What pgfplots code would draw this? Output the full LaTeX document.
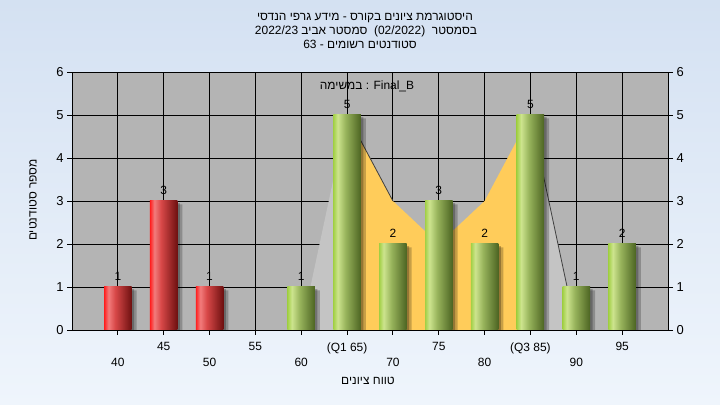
\documentclass[border=0pt]{standalone}
\usepackage{pgfplots}
\pgfplotsset{compat=1.18}
\usepackage{fontspec}
\setmainfont{Liberation Sans}
\newfontfamily\hebfont[Script=Hebrew]{Liberation Sans}
\TeXXeTstate=1
\newcommand\hb[1]{{\hebfont\beginR #1\endR}}

\definecolor{bgTop}{HTML}{D4E1F2}
\definecolor{bgBot}{HTML}{EFF5FC}
\definecolor{plotBg}{HTML}{B4B4B4}
\definecolor{areaGray}{HTML}{C4C4C4}
\definecolor{areaYellow}{HTML}{FFCC5A}
\definecolor{rA}{HTML}{FF1E1E}
\definecolor{rB}{HTML}{F27C7C}
\definecolor{rC}{HTML}{D84848}
\definecolor{rD}{HTML}{6E1010}
\definecolor{gA}{HTML}{A2D046}
\definecolor{gB}{HTML}{CDE48E}
\definecolor{gC}{HTML}{98B45C}
\definecolor{gD}{HTML}{4C6422}

\pgfdeclarehorizontalshading{redbar}{100bp}{color(0bp)=(rA); color(25bp)=(rA); color(33bp)=(rB); color(45bp)=(rC); color(75bp)=(rD); color(100bp)=(rD)}
\pgfdeclarehorizontalshading{greenbar}{100bp}{color(0bp)=(gA); color(25bp)=(gA); color(33bp)=(gB); color(47bp)=(gC); color(75bp)=(gD); color(100bp)=(gD)}

\pgfplotsset{
  mybar/.style={ybar, bar width=3, bar shift=0pt, draw=none, shade, shading=#1, nodes near coords},
}

\begin{document}
\begin{tikzpicture}
\useasboundingbox (0,0) rectangle (720bp,405bp);
\shade[top color=bgTop, bottom color=bgBot] (0,0) rectangle (720bp,405bp);

\begin{axis}[
  at={(72bp,75bp)}, anchor=south west,
  scale only axis, width=596bp, height=258bp,
  xmin=35, xmax=100, ymin=0, ymax=6,
  axis background/.style={fill=plotBg},
  axis line style={black, line width=0.9bp},
  tick style={black, line width=0.9bp},
  tick align=outside, major tick length=5bp,
  xtick pos=left, ytick pos=left,
  ytick={0,1,2,3,4,5,6},
  xtick={45,55,65,75,85,95},
  xticklabels={45,55,(Q1 65),75,(Q3 85),95},
  extra x ticks={40,50,60,70,80,90},
  extra x tick labels={40,50,60,70,80,90},
  extra x tick style={grid=major, major grid style={black, line width=0.9bp}, xticklabel style={yshift=-16bp}},
  grid=major, major grid style={black, line width=0.9bp},
  xticklabel style={font=\fontsize{12}{13}\selectfont, yshift=-4bp},
  yticklabel style={font=\fontsize{13}{14}\selectfont},
  /pgf/number format/assume math mode=true,
  nodes near coords style={font=\fontsize{12}{13}\selectfont, text=black, yshift=3bp},
]
% areas
\addplot[fill=areaGray, draw=none] coordinates {(60,0)(65,5)} \closedcycle;
\addplot[fill=areaGray, draw=none] coordinates {(85,5)(90,0)} \closedcycle;
\addplot[fill=areaYellow, draw=none] coordinates {(65,5)(70,3)(75,2)(80,3)(85,5)} \closedcycle;
\addplot[draw=black!75, line width=0.8bp] coordinates {(65,5)(70,3)};
\addplot[draw=black!75, line width=0.8bp] coordinates {(85,5)(90,0)};
% shadows
\addplot[ybar, bar width=3, bar shift=2.5bp, fill=black, fill opacity=0.25, draw=none]
  coordinates {(40,0.95)(45,2.95)(50,0.95)(60,0.95)(65,4.95)(70,1.95)(75,2.95)(80,1.95)(85,4.95)(90,0.95)(95,1.95)};
\addplot[ybar, bar width=3, bar shift=5bp, fill=black, fill opacity=0.22, draw=none]
  coordinates {(40,0.92)(45,2.92)(50,0.92)(60,0.92)(65,4.92)(70,1.92)(75,2.92)(80,1.92)(85,4.92)(90,0.92)(95,1.92)};
% bars (one plot per bar so each gets its own cylinder shading)
\addplot[mybar=redbar] coordinates {(40,1)};
\addplot[mybar=redbar] coordinates {(45,3)};
\addplot[mybar=redbar] coordinates {(50,1)};
\addplot[mybar=greenbar] coordinates {(60,1)};
\addplot[mybar=greenbar] coordinates {(65,5)};
\addplot[mybar=greenbar] coordinates {(70,2)};
\addplot[mybar=greenbar] coordinates {(75,3)};
\addplot[mybar=greenbar] coordinates {(80,2)};
\addplot[mybar=greenbar] coordinates {(85,5)};
\addplot[mybar=greenbar] coordinates {(90,1)};
\addplot[mybar=greenbar] coordinates {(95,2)};
\end{axis}

\begin{axis}[
  at={(72bp,75bp)}, anchor=south west,
  scale only axis, width=596bp, height=258bp,
  xmin=35, xmax=100, ymin=0, ymax=6,
  axis x line=none, axis y line*=right,
  axis line style={black, line width=0.9bp, -},
  tick style={black, line width=0.9bp},
  tick align=outside, major tick length=5bp,
  ytick={0,1,2,3,4,5,6},
  yticklabel style={font=\fontsize{13}{14}\selectfont},
  /pgf/number format/assume math mode=true,
]
\addplot[draw=none] coordinates {(40,0)};
\end{axis}

\node[font=\fontsize{12}{13}\selectfont] at (365bp,387bp) {\hb{היסטוגרמת ציונים בקורס - מידע גרפי הנדסי}};
\node[font=\fontsize{12}{13}\selectfont] at (366bp,374bp) {\hebfont\beginR בסמסטר\ \ \beginL(02/2022)\endL\ \ סמסטר אביב \beginL2022/23\endL\endR};
\node[font=\fontsize{12}{13}\selectfont] at (360bp,361bp) {\hb{סטודנטים רשומים - \beginL63\endL}};
\node[font=\fontsize{12}{13}\selectfont] at (367bp,319bp) {\hb{במשימה} : Final\_B};
\node[font=\fontsize{12}{13}\selectfont, rotate=90] at (33bp,205bp) {\hb{מספר סטודנטים}};
\node[font=\fontsize{12}{13}\selectfont] at (368bp,24bp) {\hb{טווח ציונים}};
\end{tikzpicture}
\end{document}
